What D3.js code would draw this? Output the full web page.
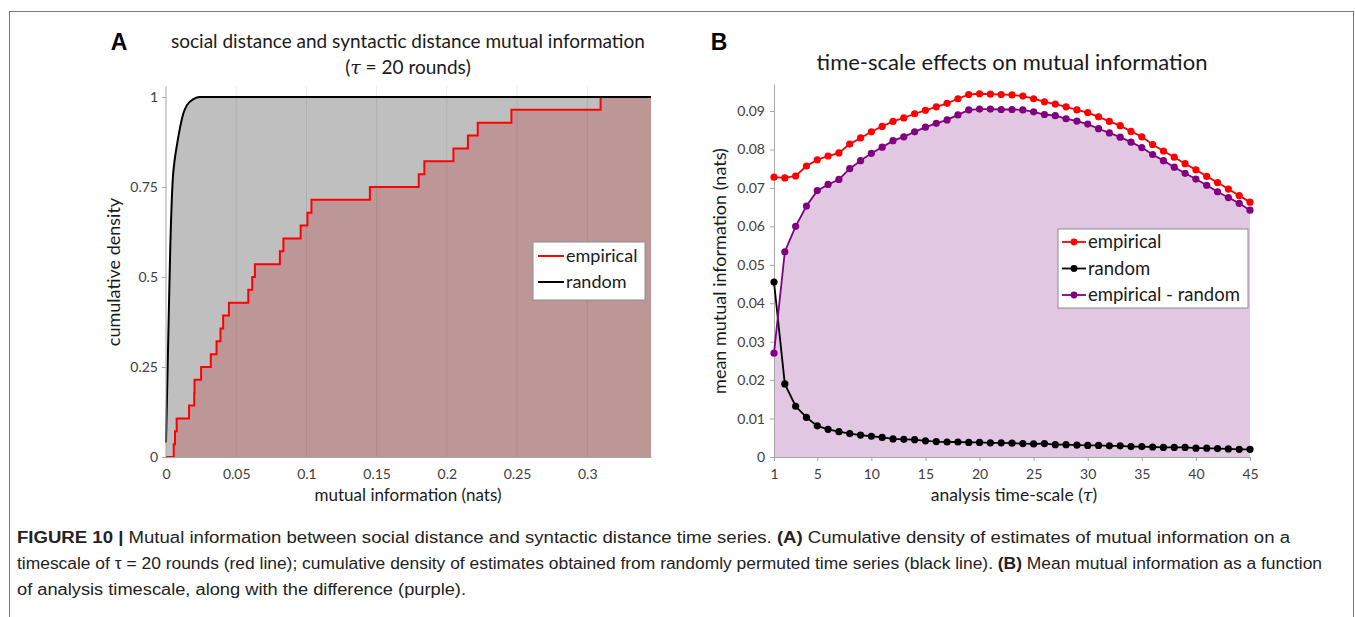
<!DOCTYPE html>
<html>
<head>
<meta charset="utf-8">
<script src="https://cdn.jsdelivr.net/npm/d3@7"></script>
<style>
  body { margin: 0; background: #fff; }
  svg text { font-family: Lato, "Open Sans", sans-serif; }
  .caption text { font-family: "Liberation Sans", Arial, sans-serif; }
</style>
</head>
<body>
<svg id="chart" width="1355" height="617"></svg>
<script>
// panel A: 28 sorted estimates of mutual information (tau = 20 rounds)
const empiricalMI = [0.0055, 0.0064, 0.0076, 0.0164, 0.0201, 0.0203, 0.0250, 0.0319,
  0.0360, 0.0388, 0.0407, 0.0448, 0.0586, 0.0614, 0.0633, 0.0811, 0.0836, 0.0959,
  0.1007, 0.1036, 0.1452, 0.1800, 0.1840, 0.2047, 0.2150, 0.2220, 0.2460, 0.3095];

// panel A: cumulative density of permuted (random) estimates
const randomX = [0, 0.001, 0.002, 0.003, 0.0048, 0.006, 0.0076, 0.010, 0.0124, 0.015, 0.0195, 0.024, 0.3454];
const randomY = [0.04, 0.22, 0.40, 0.575, 0.77, 0.82, 0.862, 0.915, 0.955, 0.978, 0.994, 1, 1];

const xTicksA = [0, 0.05, 0.1, 0.15, 0.2, 0.25, 0.3];
const yTicksA = [0, 0.25, 0.5, 0.75, 1];

// panel B: mean mutual information by analysis time-scale
const tau = [1, 2, 3, 4, 5, 6, 7, 8, 9, 10, 11, 12, 13, 14, 15, 16, 17, 18, 19, 20, 21, 22, 23,
  24, 25, 26, 27, 28, 29, 30, 31, 32, 33, 34, 35, 36, 37, 38, 39, 40, 41, 42, 43, 44, 45];
const empirical = [0.0728, 0.0726, 0.0731, 0.0757, 0.0773, 0.0783, 0.0791, 0.0814, 0.0830,
  0.0846, 0.0860, 0.0873, 0.0882, 0.0893, 0.0902, 0.0911, 0.0920, 0.0932, 0.0943, 0.0945,
  0.0944, 0.0943, 0.0942, 0.0939, 0.0932, 0.0924, 0.0918, 0.0911, 0.0903, 0.0896, 0.0885,
  0.0873, 0.0862, 0.0847, 0.0833, 0.0813, 0.0796, 0.0780, 0.0763, 0.0747, 0.0730, 0.0714,
  0.0697, 0.0680, 0.0663];
const random = [0.0455, 0.0190, 0.0132, 0.0103, 0.0081, 0.0072, 0.0066, 0.0061, 0.0057,
  0.0054, 0.0051, 0.0047, 0.0046, 0.0045, 0.0042, 0.0040, 0.0039, 0.0039, 0.0038, 0.0038,
  0.0037, 0.0037, 0.0036, 0.0035, 0.0034, 0.0035, 0.0032, 0.0032, 0.0031, 0.0030, 0.0030,
  0.0029, 0.0029, 0.0027, 0.0027, 0.0026, 0.0025, 0.0025, 0.0025, 0.0023, 0.0023, 0.0022,
  0.0021, 0.0020, 0.0020];
const difference = [0.0270, 0.0534, 0.0600, 0.0653, 0.0693, 0.0709, 0.0722, 0.0750, 0.0771,
  0.0790, 0.0806, 0.0823, 0.0833, 0.0846, 0.0858, 0.0868, 0.0877, 0.0890, 0.0903, 0.0905,
  0.0905, 0.0904, 0.0904, 0.0903, 0.0898, 0.0891, 0.0888, 0.0880, 0.0874, 0.0866, 0.0854,
  0.0843, 0.0832, 0.0819, 0.0805, 0.0787, 0.0771, 0.0754, 0.0738, 0.0723, 0.0707, 0.0690,
  0.0675, 0.0660, 0.0642];

const xTicksB = [1, 5, 10, 15, 20, 25, 30, 35, 40, 45];
const yTicksB = [0, 0.01, 0.02, 0.03, 0.04, 0.05, 0.06, 0.07, 0.08, 0.09];

const captionLines = [
  [["FIGURE 10 | ", true], ["Mutual information between social distance and syntactic distance time series. ", false],
   ["(A)", true], [" Cumulative density of estimates of mutual information on a", false]],
  [["timescale of τ = 20 rounds (red line); cumulative density of estimates obtained from randomly permuted time series (black line). ", false],
   ["(B)", true], [" Mean mutual information as a function", false]],
  [["of analysis timescale, along with the difference (purple).", false]]
];

const svg = d3.select('#chart');
const axisGrey = '#a6a6a6';
const labelColor = '#404040';

const styleAxis = (g) => {
  g.select('.domain').attr('stroke', axisGrey);
  g.selectAll('.tick line').attr('stroke', axisGrey);
  g.selectAll('.tick text').attr('fill', labelColor).style('font-size', '14px');
};

const drawPanelA = () => {
  const x = d3.scaleLinear().domain([0, 0.3454]).range([166, 651]);
  const y = d3.scaleLinear().domain([0, 1]).range([457, 97]);
  const top = y(1.03);
  const g = svg.append('g');

  const randomPts = randomX.map((v, i) => [v, randomY[i]]);
  g.append('path')
    .datum(randomPts)
    .attr('fill', '#bfbfbf')
    .attr('d', d3.area().x(d => x(d[0])).y0(y(0)).y1(d => y(d[1])).curve(d3.curveMonotoneX));

  const n = empiricalMI.length;
  const stepPts = [[0, 0]].concat(empiricalMI.map((v, i) => [v, (i + 1) / n]), [[0.3454, 1]]);
  g.append('path')
    .datum(stepPts)
    .attr('fill', '#bd9797')
    .attr('d', d3.area().x(d => x(d[0])).y0(y(0)).y1(d => y(d[1])).curve(d3.curveStepAfter));

  // vertical gridlines
  g.selectAll('.grid').data(xTicksA.slice(1)).enter().append('line')
    .attr('x1', d => x(d)).attr('x2', d => x(d))
    .attr('y1', top).attr('y2', y(0))
    .attr('stroke', '#000').attr('stroke-opacity', 0.08);

  g.append('path')
    .datum(stepPts.slice(0, -1))
    .attr('fill', 'none').attr('stroke', '#ff0000').attr('stroke-width', 2)
    .attr('d', d3.line().x(d => x(d[0])).y(d => y(d[1])).curve(d3.curveStepAfter));

  g.append('path')
    .datum(randomPts)
    .attr('fill', 'none').attr('stroke', '#000').attr('stroke-width', 2)
    .attr('d', d3.line().x(d => x(d[0])).y(d => y(d[1])).curve(d3.curveMonotoneX));

  const yAxis = g.append('g').attr('transform', 'translate(166,0)')
    .call(d3.axisLeft(y).tickValues(yTicksA).tickFormat(d3.format('~g')).tickSize(4).tickPadding(4).tickSizeOuter(0));
  yAxis.select('.domain').attr('d', `M0,${top}V${y(0)}`);
  styleAxis(yAxis);

  const xAxis = g.append('g').attr('transform', `translate(0,${y(0)})`)
    .call(d3.axisBottom(x).tickValues(xTicksA).tickFormat(d3.format('~g')).tickSize(0).tickPadding(12).tickSizeOuter(0));
  styleAxis(xAxis);

  // titles and labels
  g.append('text').attr('x', 119).attr('y', 50).attr('text-anchor', 'middle')
    .style('font-family', '"Liberation Sans", Arial, sans-serif')
    .style('font-size', '23px').style('font-weight', 'bold').text('A');
  g.append('text').attr('x', 408).attr('y', 48).attr('text-anchor', 'middle')
    .style('font-size', '19px').attr('fill', '#1a1a1a')
    .text('social distance and syntactic distance mutual information');
  const sub = g.append('text').attr('x', 408).attr('y', 74).attr('text-anchor', 'middle')
    .style('font-size', '19px').attr('fill', '#1a1a1a');
  sub.append('tspan').text('(');
  sub.append('tspan').style('font-style', 'italic').style('font-family', '"DejaVu Serif", serif').text('τ');
  sub.append('tspan').text(' = 20 rounds)');

  g.append('text').attr('transform', 'translate(120,272) rotate(-90)').attr('text-anchor', 'middle')
    .style('font-size', '18px').attr('fill', '#1a1a1a').text('cumulative density');
  g.append('text').attr('x', 408).attr('y', 501).attr('text-anchor', 'middle')
    .style('font-size', '17px').attr('fill', '#1a1a1a').text('mutual information (nats)');

  // legend
  const lg = g.append('g').attr('transform', 'translate(533,242)');
  lg.append('rect').attr('width', 112).attr('height', 58).attr('fill', '#fff').attr('stroke', '#8c8c8c');
  const entries = [['empirical', '#ff0000'], ['random', '#000']];
  entries.forEach(([name, color], i) => {
    const yy = 14 + i * 26;
    lg.append('line').attr('x1', 5).attr('x2', 31).attr('y1', yy).attr('y2', yy)
      .attr('stroke', color).attr('stroke-width', 2);
    lg.append('text').attr('x', 33).attr('y', yy + 6).style('font-size', '18px').attr('fill', '#1a1a1a').text(name);
  });
};

const drawPanelB = () => {
  const x = d3.scaleLinear().domain([1, 45]).range([774, 1250]);
  const y = d3.scaleLinear().domain([0, 0.097]).range([457, 457 - 0.097 * 3844]);
  const g = svg.append('g');

  const diffPts = tau.map((t, i) => [t, difference[i]]);
  g.append('path')
    .datum(diffPts)
    .attr('fill', '#e1c7e1')
    .attr('d', d3.area().x(d => x(d[0])).y0(y(0)).y1(d => y(d[1])));

  const series = [
    { name: 'empirical', values: empirical, color: '#ff0000' },
    { name: 'random', values: random, color: '#000' },
    { name: 'empirical - random', values: difference, color: '#800080' }
  ];

  const yAxis = g.append('g').attr('transform', 'translate(774,0)')
    .call(d3.axisLeft(y).tickValues(yTicksB).tickFormat(d3.format('~g')).tickSize(4).tickPadding(5).tickSizeOuter(0));
  styleAxis(yAxis);
  const xAxis = g.append('g').attr('transform', `translate(0,${y(0)})`)
    .call(d3.axisBottom(x).tickValues(xTicksB).tickSize(4).tickPadding(8).tickSizeOuter(0));
  styleAxis(xAxis);

  series.forEach(s => {
    const pts = tau.map((t, i) => [t, s.values[i]]);
    g.append('path').datum(pts)
      .attr('fill', 'none').attr('stroke', s.color).attr('stroke-width', 1.8)
      .attr('d', d3.line().x(d => x(d[0])).y(d => y(d[1])));
    g.selectAll(null).data(pts).enter().append('circle')
      .attr('cx', d => x(d[0])).attr('cy', d => y(d[1])).attr('r', 3.6)
      .attr('fill', s.color);
  });

  g.append('text').attr('x', 719).attr('y', 50).attr('text-anchor', 'middle')
    .style('font-family', '"Liberation Sans", Arial, sans-serif')
    .style('font-size', '23px').style('font-weight', 'bold').text('B');
  g.append('text').attr('x', 1012).attr('y', 70).attr('text-anchor', 'middle')
    .style('font-size', '22px').attr('fill', '#1a1a1a').text('time-scale effects on mutual information');

  g.append('text').attr('transform', 'translate(726,271) rotate(-90)').attr('text-anchor', 'middle')
    .style('font-size', '18px').attr('fill', '#1a1a1a').text('mean mutual information (nats)');
  const xl = g.append('text').attr('x', 1014).attr('y', 501).attr('text-anchor', 'middle')
    .style('font-size', '17.5px').attr('fill', '#1a1a1a');
  xl.append('tspan').text('analysis time-scale (');
  xl.append('tspan').style('font-style', 'italic').style('font-family', '"DejaVu Serif", serif').text('τ');
  xl.append('tspan').text(')');

  const lg = g.append('g').attr('transform', 'translate(1058,229)');
  lg.append('rect').attr('width', 190).attr('height', 79).attr('fill', '#fff').attr('stroke', '#8c8c8c');
  series.forEach((s, i) => {
    const yy = 13 + i * 26.5;
    lg.append('line').attr('x1', 4).attr('x2', 28).attr('y1', yy).attr('y2', yy)
      .attr('stroke', s.color).attr('stroke-width', 1.8);
    lg.append('circle').attr('cx', 16).attr('cy', yy).attr('r', 3.4).attr('fill', s.color);
    lg.append('text').attr('x', 30).attr('y', yy + 6).style('font-size', '18.5px').attr('fill', '#1a1a1a').text(s.name);
  });
};

const drawFrameAndCaption = () => {
  svg.append('rect').attr('x', 9.5).attr('y', 11.5).attr('width', 1344).attr('height', 640)
    .attr('fill', 'none').attr('stroke', '#777');
  const cap = svg.append('g').attr('class', 'caption');
  // measured line widths in the reference
  const widths = [1273, 1305, 449];
  captionLines.forEach((parts, i) => {
    const t = cap.append('text').attr('x', 17).attr('y', 543 + i * 26)
      .style('font-size', '16px').attr('fill', '#222')
      .attr('textLength', widths[i]).attr('lengthAdjust', 'spacingAndGlyphs');
    parts.forEach(([txt, bold]) => {
      t.append('tspan').style('font-weight', bold ? 'bold' : 'normal').text(txt);
    });
  });
};

const main = () => {
  drawPanelA();
  drawPanelB();
  drawFrameAndCaption();
};

window.onload = main;
</script>
</body>
</html>
